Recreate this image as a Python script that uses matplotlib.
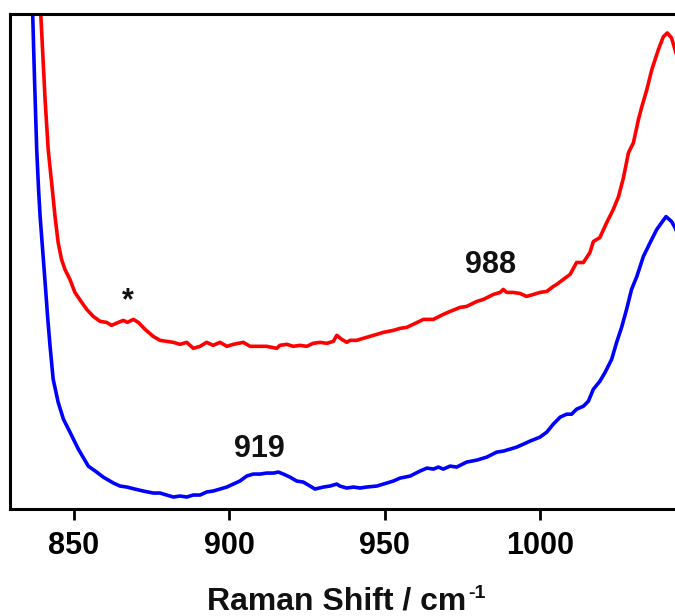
import numpy as np
import matplotlib
matplotlib.use('Agg')
import matplotlib.pyplot as plt

# Raman shift (cm-1) and intensity (a.u.).
red_x = [838.9, 839.3, 840.7, 841.7, 842.8, 843.9, 844.9, 846.0, 847.1, 848.7,
         850.3, 852.5, 854.1, 856.2, 858.4, 860.5, 862.1, 864.3, 865.9, 867.2,
         869.1, 870.7, 872.9, 875.5, 877.7, 879.8, 882.0, 884.1, 886.3, 888.4,
         890.6, 892.7, 894.8, 897.0, 899.2, 901.3, 904.5, 906.7, 909.9, 912.0,
         915.3, 916.3, 918.5, 920.6, 922.8, 924.9, 927.0, 929.2, 931.4, 933.5,
         934.6, 936.2, 937.8, 938.9, 941.0, 944.2, 946.4, 949.6, 952.8, 955.0,
         957.1, 959.2, 962.5, 965.7, 968.9, 971.1, 974.3, 976.4, 979.7, 981.8,
         985.0, 987.2, 988.2, 989.3, 991.4, 993.6, 995.7, 997.9, 1000.0, 1002.2,
         1004.3, 1005.4, 1007.5, 1009.7, 1011.8, 1014.0, 1016.1, 1017.2, 1019.3, 1021.5,
         1023.6, 1025.3, 1026.9, 1028.5, 1030.1, 1031.7, 1032.8, 1034.4, 1036.0, 1038.1,
         1039.7, 1041.0, 1042.4, 1043.5, 1045.1]
red_y = [530, 496, 410, 360, 327, 293, 267, 250, 240, 230,
         217, 207, 200, 193, 188, 187, 184, 187, 189, 187,
         190, 187, 180, 173, 169, 168, 167, 165, 167, 161,
         163, 167, 164, 167, 163, 165, 167, 163, 163, 163,
         161, 164, 165, 163, 164, 163, 166, 167, 166, 168,
         174, 170, 167, 169, 169, 172, 174, 177, 179, 181,
         182, 185, 190, 190, 195, 198, 202, 203, 208, 210,
         215, 217, 220, 217, 217, 216, 213, 215, 217, 218,
         223, 225, 230, 235, 247, 247, 257, 268, 272, 287,
         300, 313, 332, 357, 367, 390, 403, 420, 440, 460,
         473, 477, 472, 460, 445]

blue_x = [836.5, 836.7, 837.3, 838.0, 838.6, 839.1, 839.9, 840.7, 841.5, 842.3,
          843.3, 844.9, 846.6, 848.7, 851.4, 854.6, 857.3, 859.4, 862.7, 864.8,
          867.0, 869.6, 872.3, 875.5, 877.7, 879.8, 882.0, 884.1, 886.3, 888.4,
          890.6, 892.7, 894.8, 897.0, 899.2, 901.3, 903.4, 905.6, 907.7, 909.9,
          912.0, 914.2, 915.8, 917.4, 919.5, 921.7, 923.8, 926.0, 927.6, 930.3,
          932.4, 934.6, 935.6, 937.8, 940.0, 942.1, 944.2, 947.5, 950.7, 952.8,
          955.0, 958.2, 961.4, 963.6, 965.7, 967.3, 968.9, 971.1, 973.2, 976.4,
          979.7, 982.9, 986.1, 988.2, 990.4, 992.5, 994.7, 996.8, 1000.0, 1002.2,
          1004.3, 1006.5, 1008.6, 1010.2, 1011.8, 1014.0, 1015.6, 1017.2, 1019.3, 1021.0,
          1023.1, 1024.7, 1026.3, 1027.9, 1029.5, 1031.2, 1033.3, 1035.5, 1037.6, 1039.2,
          1040.6, 1042.4, 1043.5, 1045.1]
blue_y = [530, 496, 430, 360, 320, 293, 260, 227, 193, 163,
          130, 107, 90, 77, 60, 43, 37, 32, 26, 23,
          22, 20, 18, 16, 16, 14, 12, 13, 12, 14,
          14, 17, 18, 20, 22, 25, 28, 33, 35, 35,
          36, 36, 37, 35, 32, 28, 27, 23, 20, 22,
          23, 25, 23, 21, 22, 21, 22, 23, 26, 28,
          31, 33, 38, 41, 40, 42, 40, 43, 42, 47,
          49, 52, 57, 58, 60, 62, 65, 68, 72, 77,
          85, 92, 95, 95, 100, 103, 108, 120, 128, 137,
          150, 167, 182, 200, 220, 233, 253, 267, 280, 287,
          293, 288, 282, 270]

tick_vals = [850, 900, 950, 1000]
peak_labels = ['*', '988', '919']
peak_x = [867.3, 984.0, 909.6]
peak_y = [200, 236, 52]

plt.rcParams['font.family'] = ['Liberation Sans', 'DejaVu Sans']
plt.rcParams['font.weight'] = 'bold'

fig = plt.figure(figsize=(6.75, 6.16), dpi=100)
ax = fig.add_axes([10 / 675, 107 / 616, 670 / 675, 495 / 616])

ax.plot(red_x, red_y, color='red', lw=2.6)
ax.plot(blue_x, blue_y, color='blue', lw=2.6)

for lab, px, py in zip(peak_labels, peak_x, peak_y):
    ax.text(px, py, lab, ha='center', va='baseline', fontsize=22,
            fontweight='bold', color='#111111')

ax.set_xlim(829.4, 1045.1)
ax.set_ylim(0, 496)
ax.set_xticks(tick_vals)
ax.set_yticks([])
ax.tick_params(axis='x', direction='out', length=8, width=2, labelsize=22, pad=8)
for s in ['left', 'top', 'bottom']:
    ax.spines[s].set_linewidth(2.2)
ax.spines['right'].set_visible(False)

# axis title with a small raised "-1"
fig.text(336.5 / 675, 7 / 616, 'Raman Shift / cm', ha='center', va='baseline',
         fontsize=23, fontweight='bold', color='#111111')
fig.text(468 / 675, 18 / 616, '-1', ha='left', va='baseline',
         fontsize=14, fontweight='bold', color='#111111')

fig.savefig('out.png', dpi=100)
